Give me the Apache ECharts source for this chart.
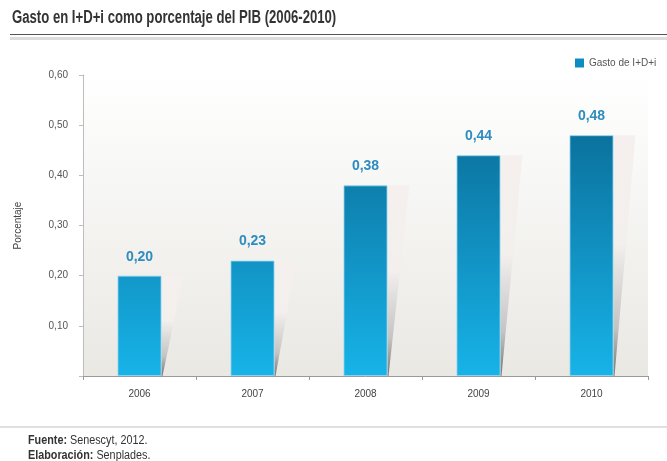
<!DOCTYPE html>
<html>
<head>
<meta charset="utf-8">
<script src="https://cdn.jsdelivr.net/npm/echarts@6/dist/echarts.min.js"></script>
<style>
  html, body { margin: 0; padding: 0; background: #fff; }
  #chart { width: 667px; height: 461px; }
</style>
</head>
<body>
<div id="chart"></div>
<script>
// datos del grafico
const years = ['2006', '2007', '2008', '2009', '2010'];
const gasto = [0.20, 0.23, 0.38, 0.44, 0.48];
const seriesName = 'Gasto de I+D+i';
const titulo = 'Gasto en I+D+i como porcentaje del PIB (2006-2010)';

const FONT = '"Liberation Sans", Arial, sans-serif';
const fmt = v => v.toFixed(2).replace('.', ',');

var myChart = echarts.init(document.getElementById('chart'), null, { renderer: 'canvas' });

// sombra inclinada a la derecha de cada barra
function renderShadow(params, api) {
    var idx = api.value(0);
    var top = api.coord([idx, api.value(1)]);
    var base = api.coord([idx, 0]);
    var right = top[0] + 22;
    return {
        type: 'polygon',
        shape: {
            points: [[right, top[1]], [right + 22, top[1]], [right + 1, base[1]], [right, base[1]]]
        },
        style: {
            fill: new echarts.graphic.LinearGradient(0, 0, 0, 1, [
                { offset: 0, color: '#f5f0ee' },
                { offset: 0.45, color: '#f2efed' },
                { offset: 0.8, color: '#c4c4c4' },
                { offset: 1, color: '#777' }
            ])
        }
    };
}

var option = {
    animation: false,
    backgroundColor: '#fff',
    legend: {
        left: 570,
        top: 53,
        icon: 'rect',
        itemWidth: 9,
        itemHeight: 9,
        itemGap: 5,
        data: [{ name: seriesName, itemStyle: { color: '#0b8cc2', borderWidth: 0 } }],
        textStyle: { fontFamily: FONT, fontSize: 10, color: '#555' }
    },
    grid: {
        left: 83,
        right: 19,
        top: 75,
        bottom: 85,
        show: true,
        borderWidth: 0,
        backgroundColor: new echarts.graphic.LinearGradient(0, 0, 0, 1, [
            { offset: 0, color: '#ffffff' },
            { offset: 1, color: '#e9e8e3' }
        ])
    },
    xAxis: {
        type: 'category',
        data: years,
        axisLine: { lineStyle: { color: '#9a9a9a' } },
        axisTick: { show: true, length: 4, lineStyle: { color: '#9a9a9a' } },
        axisLabel: { fontFamily: FONT, fontSize: 10, color: '#444', margin: 13 }
    },
    yAxis: {
        type: 'value',
        min: 0,
        max: 0.6,
        interval: 0.1,
        name: 'Porcentaje',
        nameLocation: 'middle',
        nameGap: 60,
        nameTextStyle: { fontFamily: FONT, fontSize: 10, color: '#444' },
        splitLine: { show: false },
        axisLine: { show: true, lineStyle: { color: '#bdbdbd' } },
        axisTick: { show: true, length: 4, lineStyle: { color: '#bdbdbd' } },
        axisLabel: {
            fontFamily: FONT, fontSize: 10, color: '#555', margin: 15,
            formatter: v => (v === 0 ? '' : fmt(v))
        }
    },
    series: [
        {
            type: 'custom',
            name: 'sombra',
            data: gasto.map((v, i) => [i, v]),
            renderItem: renderShadow,
            silent: true,
            z: 1
        },
        {
            type: 'bar',
            name: seriesName,
            data: gasto,
            barWidth: 44,
            z: 2,
            itemStyle: {
                color: new echarts.graphic.LinearGradient(0, 376, 0, 110, [
                    { offset: 0, color: '#17b3e8' },
                    { offset: 1, color: '#0a6b96' }
                ], true),
                borderColor: 'rgba(140,210,240,0.8)',
                borderWidth: 1
            },
            label: {
                show: true,
                position: 'top',
                distance: 12,
                fontFamily: FONT,
                fontSize: 14,
                fontWeight: 'bold',
                color: '#2e8cc0',
                formatter: p => fmt(p.value)
            }
        }
    ],
    graphic: [
        {
            type: 'text', x: 12, y: 9, scaleX: 0.73,
            style: { text: titulo, font: 'bold 18px ' + FONT, fill: '#333' }
        },
        { type: 'rect', shape: { x: 10, y: 34, width: 657, height: 1 }, style: { fill: '#555' } },
        { type: 'rect', shape: { x: 10, y: 37, width: 657, height: 3 }, style: { fill: '#dcdcdc' } },
        { type: 'rect', shape: { x: 0, y: 426, width: 667, height: 2 }, style: { fill: '#e0e0e0' } },
        {
            type: 'text', x: 28, y: 433, scaleX: 0.9,
            style: {
                text: '{b|Fuente:} Senescyt, 2012.\n{b|Elaboración:} Senplades.',
                font: '12px ' + FONT,
                fill: '#333',
                lineHeight: 15,
                rich: { b: { fontWeight: 'bold', fontFamily: FONT, fontSize: 12, fill: '#333' } }
            }
        }
    ]
};

myChart.setOption(option);
</script>
</body>
</html>
